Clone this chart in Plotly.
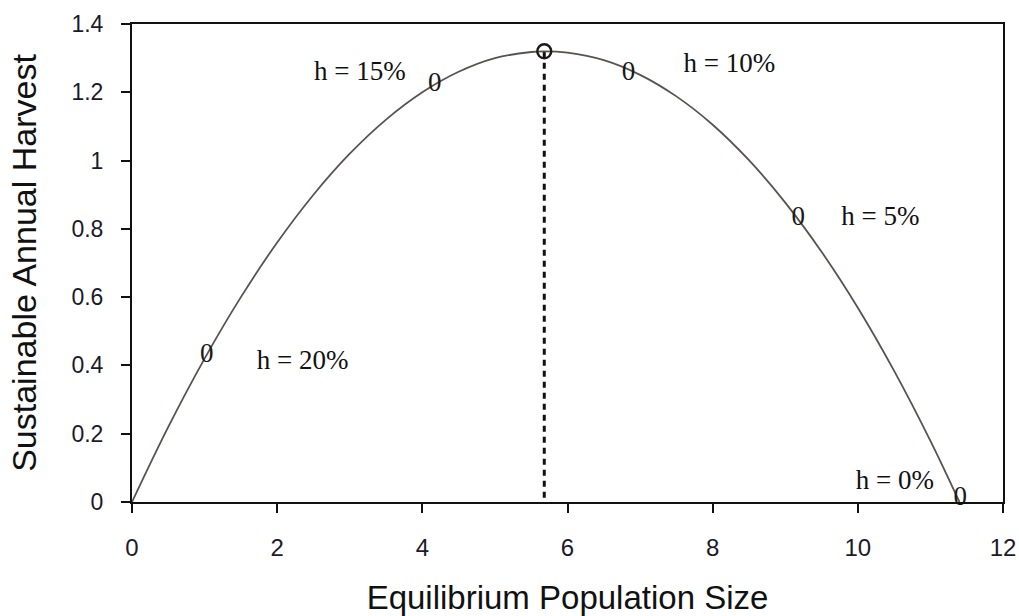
import plotly.graph_objects as go

# Curve (equilibrium population size vs sustainable harvest)
curve_x = [0, 0.5, 1, 1.5, 2, 2.5, 3, 3.5, 4, 4.5, 5, 5.5, 5.68, 6, 6.5, 7, 7.5, 8, 8.5, 9, 9.5, 10, 10.5, 11, 11.4]
curve_y = [0, 0.22, 0.42, 0.60, 0.76, 0.90, 1.02, 1.12, 1.20, 1.26, 1.30, 1.318, 1.32, 1.316, 1.294, 1.251, 1.188, 1.105, 1.001, 0.877, 0.733, 0.569, 0.384, 0.179, 0]

# Harvest-rate points marked with "0"
point_x = [1.03, 4.17, 6.84, 9.18, 11.41]
point_y = [0.43, 1.224, 1.255, 0.83, 0.01]

# Maximum sustainable yield point
peak_x = [5.68]
peak_y = [1.32]

# Labels of the harvest rates
label_text = ["h = 20%", "h = 15%", "h = 10%", "h = 5%", "h = 0%"]
label_x = [2.35, 3.14, 8.23, 10.31, 10.51]
label_y = [0.41, 1.256, 1.28, 0.831, 0.059]

x_ticks = [0, 2, 4, 6, 8, 10, 12]
y_ticks = [0, 0.2, 0.4, 0.6, 0.8, 1, 1.2, 1.4]
y_tick_text = ["0", "0.2", "0.4", "0.6", "0.8", "1", "1.2", "1.4"]

fig = go.Figure()

# dashed vertical line at the peak
fig.add_trace(go.Scatter(
    x=[peak_x[0], peak_x[0]], y=[-0.02, peak_y[0]], mode="lines",
    line=dict(color="#111111", width=3, dash="6px,5px"),
    hoverinfo="skip", showlegend=False, cliponaxis=False))

fig.add_trace(go.Scatter(
    x=curve_x, y=curve_y, mode="lines", line_shape="spline",
    line=dict(color="#5a5250", width=1.8), showlegend=False))

fig.add_trace(go.Scatter(
    x=point_x, y=point_y, mode="text", text=["0"] * len(point_x),
    textposition="middle center",
    textfont=dict(family="Liberation Serif", size=27, color="#1a1a1a"),
    showlegend=False, cliponaxis=False))

fig.add_trace(go.Scatter(
    x=peak_x, y=peak_y, mode="markers",
    marker=dict(symbol="circle-open", size=14, line=dict(color="#1a1a1a", width=2.4), color="#1a1a1a"),
    showlegend=False, cliponaxis=False))

fig.add_trace(go.Scatter(
    x=label_x, y=label_y, mode="text", text=label_text,
    textposition="middle center",
    textfont=dict(family="Liberation Serif", size=27, color="#111111"),
    showlegend=False, cliponaxis=False))

axis_common = dict(
    showline=True, linecolor="#111111", linewidth=2, mirror=True,
    ticks="outside", ticklen=9, tickwidth=2, tickcolor="#111111",
    showgrid=False, zeroline=False, automargin=False,
)

fig.update_xaxes(
    range=[0, 12], tickvals=x_ticks, ticktext=[str(v) for v in x_ticks],
    tickfont=dict(family="Liberation Sans", size=24, color="#1a1a2a"),
    title=dict(text="Equilibrium Population Size",
               font=dict(family="Liberation Sans", size=33, color="#111111"), standoff=34),
    ticklabelstandoff=14, **axis_common)
fig.update_yaxes(
    range=[0, 1.4], tickvals=y_ticks, ticktext=y_tick_text,
    tickfont=dict(family="Liberation Sans", size=23, color="#1a1a2a"),
    title=dict(text="Sustainable Annual Harvest",
               font=dict(family="Liberation Sans", size=34, color="#111111"), standoff=25),
    ticklabelstandoff=13, **axis_common)

fig.update_layout(
    width=1019, height=616,
    margin=dict(l=132, r=16, t=24, b=114),
    paper_bgcolor="white", plot_bgcolor="white",
    showlegend=False,
)

# remove the default page margin so the figure fills the window exactly
fig.write_html(
    "out.html",
    config={"displayModeBar": False},
    post_script="document.body.style.margin='0';document.body.style.overflow='hidden';"
                "document.documentElement.style.overflow='hidden';",
)
